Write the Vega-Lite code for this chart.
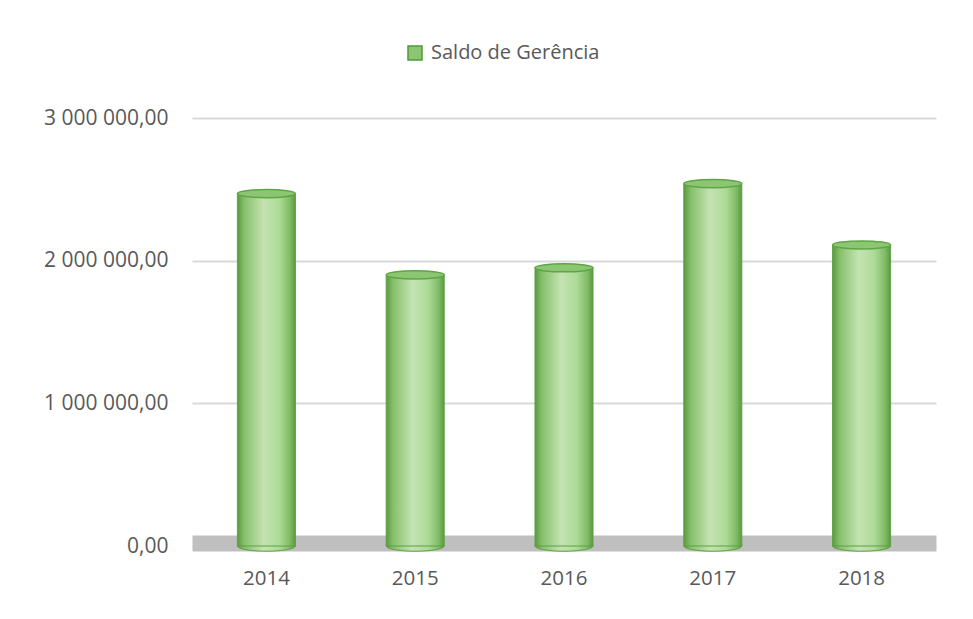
{
  "$schema": "https://vega.github.io/schema/vega-lite/v6.json",
  "width": 744,
  "height": 428,
  "autosize": {"type": "none"},
  "padding": {"left": 192, "top": 118, "right": 37, "bottom": 73},
  "background": "#ffffff",
  "config": {
    "view": {"stroke": null},
    "font": "Open Sans",
    "locale": {
      "number": {"decimal": ",", "thousands": " ", "grouping": [3], "currency": ["", " €"]}
    }
  },
  "data": {
    "values": [
      {"ano": "2014", "saldo": 2470000, "serie": "Saldo de Gerência"},
      {"ano": "2015", "saldo": 1900000, "serie": "Saldo de Gerência"},
      {"ano": "2016", "saldo": 1950000, "serie": "Saldo de Gerência"},
      {"ano": "2017", "saldo": 2540000, "serie": "Saldo de Gerência"},
      {"ano": "2018", "saldo": 2110000, "serie": "Saldo de Gerência"}
    ]
  },
  "encoding": {
    "x": {
      "field": "ano",
      "type": "ordinal",
      "scale": {"paddingInner": 0, "paddingOuter": 0},
      "axis": {
        "title": null,
        "labelAngle": 0,
        "labelFont": "Open Sans",
        "labelFontSize": 20.5,
        "labelColor": "#595959",
        "labelPadding": 25,
        "ticks": false,
        "offset": -3,
        "domain": true,
        "domainColor": "#bfbfbf",
        "domainWidth": 16,
        "domainCap": "butt"
      }
    }
  },
  "layer": [
    {
      "description": "rounded base of each cylinder",
      "mark": {
        "type": "point",
        "shape": "M-1,0A1,0.18,0,1,0,1,0A1,0.18,0,1,0,-1,0Z",
        "size": 3364,
        "filled": true,
        "opacity": 1,
        "stroke": "#5e9f45",
        "strokeWidth": 1,
        "fill": {
          "gradient": "linear",
          "x1": 0, "y1": 0, "x2": 1, "y2": 0,
          "stops": [
            {"offset": 0, "color": "#5a9a40"},
            {"offset": 0.12, "color": "#86c06b"},
            {"offset": 0.45, "color": "#c4e3b2"},
            {"offset": 0.72, "color": "#addb97"},
            {"offset": 0.9, "color": "#82bc67"},
            {"offset": 1, "color": "#5a9a40"}
          ]
        }
      },
      "encoding": {
        "y": {"datum": 0, "type": "quantitative"}
      }
    },
    {
      "description": "cylinder body",
      "mark": {
        "type": "bar",
        "size": 58,
        "stroke": "#5e9f45",
        "strokeWidth": 1,
        "fill": {
          "gradient": "linear",
          "x1": 0, "y1": 0, "x2": 1, "y2": 0,
          "stops": [
            {"offset": 0, "color": "#5a9a40"},
            {"offset": 0.12, "color": "#86c06b"},
            {"offset": 0.45, "color": "#c4e3b2"},
            {"offset": 0.72, "color": "#addb97"},
            {"offset": 0.9, "color": "#82bc67"},
            {"offset": 1, "color": "#5a9a40"}
          ]
        }
      },
      "encoding": {
        "y": {
          "field": "saldo",
          "type": "quantitative",
          "scale": {"domain": [0, 3000000], "nice": false},
          "axis": {
            "title": null,
            "values": [0, 1000000, 2000000, 3000000],
            "format": ",.2f",
            "labelFont": "Open Sans",
            "labelFontSize": 21,
            "labelColor": "#595959",
            "labelPadding": 24,
            "ticks": false,
            "domain": false,
            "grid": true,
            "gridColor": "#d9d9d9",
            "gridWidth": 2
          }
        }
      }
    },
    {
      "description": "top cap of each cylinder, carrying the series legend",
      "mark": {
        "type": "point",
        "shape": "M-1,0A1,0.14,0,1,0,1,0A1,0.14,0,1,0,-1,0Z",
        "size": 3364,
        "filled": true,
        "opacity": 1,
        "stroke": "#5ea545",
        "strokeWidth": 1.5
      },
      "encoding": {
        "y": {"field": "saldo", "type": "quantitative"},
        "color": {
          "field": "serie",
          "type": "nominal",
          "scale": {"range": ["#8dc673"]},
          "legend": {
            "title": null,
            "orient": "none",
            "legendX": 213,
            "legendY": -75,
            "padding": 0,
            "symbolType": "square",
            "symbolSize": 196,
            "symbolStrokeColor": "#4f9a35",
            "symbolStrokeWidth": 1.5,
            "symbolFillColor": "#6db652",
            "labelFont": "Open Sans",
            "labelFontSize": 20,
            "labelColor": "#595959",
            "labelOffset": 6,
            "labelLimit": 400
          }
        }
      }
    }
  ]
}
